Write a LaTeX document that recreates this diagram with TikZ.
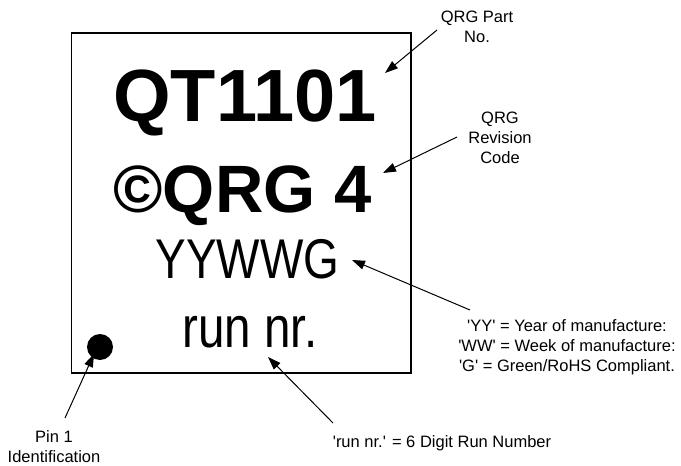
\documentclass[tikz,border=0pt]{standalone}
\usepackage{fontspec}
\setmainfont{Liberation Sans}[Ligatures=TeXOff]
\usetikzlibrary{arrows.meta}
\tikzset{
  lbl/.style={font=\fontsize{16.5}{20}\selectfont, inner sep=0pt, align=center, anchor=base},
  big/.style={font=\fontsize{74}{80}\selectfont\bfseries, inner sep=0pt, anchor=base},
  mid/.style={font=\fontsize{67}{72}\selectfont\bfseries, inner sep=0pt, anchor=base},
  narrow/.style={inner sep=0pt, anchor=base, xscale=0.82},
  arr/.style={line width=1pt, -{Triangle[length=13pt,width=9pt]}},
}
\begin{document}
\begin{tikzpicture}[x=1pt,y=-1pt]
\useasboundingbox (0,0) rectangle (681,466);
\node (chip) [draw, line width=1.3pt, minimum width=339.5pt, minimum height=340pt, inner sep=0pt] at (241.25,203) {};
\node (qt) [big] at (245,121) {QT1101};
\node (rev) [mid] at (242.5,212) {©QRG 4};
\node (yy) [narrow, font=\fontsize{56}{60}\selectfont] at (247.5,278) {YYWWG};
\node (run) [narrow, font=\fontsize{58}{62}\selectfont] at (250,347) {run nr.};
\node (pin) [circle, fill=black, minimum size=26pt, inner sep=0pt] at (100,347) {};
\node (lpart) [lbl] at (477,42) {QRG Part\\No.};
\node (lrev) [lbl] at (500,163) {QRG\\Revision\\Code};
\node (lyy) [lbl] at (567,371) {'YY' = Year of manufacture:\\'WW' = Week of manufacture:\\'G' = Green/RoHS Compliant.};
\node (lrun) [lbl] at (442,447) {'run nr.' = 6 Digit Run Number};
\node (lpin) [lbl] at (54,462) {Pin 1\\Identification};
\coordinate (t1) at (437,30);  \coordinate (h1) at (385,73);
\coordinate (t2) at (457,137); \coordinate (h2) at (383,173);
\coordinate (t3) at (470,310); \coordinate (h3) at (352,260);
\coordinate (t4) at (333,423); \coordinate (h4) at (268,357);
\coordinate (t5) at (65,418);  \coordinate (h5) at (94,354);
\draw[arr] (t1) -- (h1);
\draw[arr] (t2) -- (h2);
\draw[arr] (t3) -- (h3);
\draw[arr] (t4) -- (h4);
\draw[arr] (t5) -- (h5);
\end{tikzpicture}
\end{document}
